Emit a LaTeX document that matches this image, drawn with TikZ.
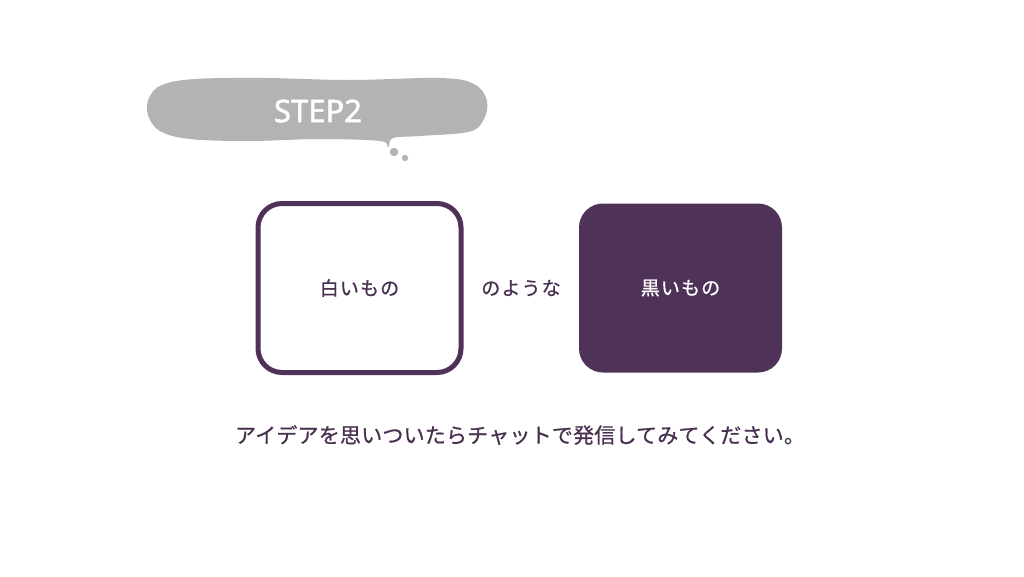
\documentclass[tikz,border=0pt]{standalone}
\usepackage{fontspec}
\usepackage{tikz}
\usetikzlibrary{calc}
\newfontfamily\jpfont[FakeBold=0.8, LetterSpace=6]{Noto Sans CJK JP}
\newfontfamily\jplinefont[FakeBold=0.7, LetterSpace=1]{Noto Sans CJK JP}
\newfontfamily\stepfont[FakeBold=1.6]{Noto Sans}
\definecolor{plum}{HTML}{4F3257}
\definecolor{plumtext}{HTML}{4A3050}
\definecolor{cloudgray}{HTML}{B3B3B3}
\tikzset{
    card/.style={rounded corners=24pt, minimum width=203pt, minimum height=169pt, inner sep=0pt},
    jptext/.style={font=\jpfont\fontsize{19}{22}\selectfont, text=plumtext}
}

\begin{document}
\begin{tikzpicture}[x=1pt, y=-1pt]
    \useasboundingbox[fill=white] (0,0) rectangle (1024,576);
    % speech cloud
    \fill[cloudgray] plot[smooth cycle, tension=0.6] coordinates {(149,98) (162,85) (195,79) (265,78) (350,80) (440,78) (474,84) (487,101) (483,121) (468,132) (420,136) (393,138) (388,147) (380,141) (320,139) (250,141) (190,139) (160,131) (148,115)};
    \fill[cloudgray] (394,152) circle (4.2) (405,158) circle (3.2);
    \node[font=\stepfont\fontsize{31}{34}\selectfont, text=white] (step) at (318,111) {STEP2};
    % the two cards
    \node[card, draw=plum, line width=5pt, fill=white] (white) at (359.5,288) {};
    \node[card, fill=plum] (black) at (680.5,288) {};
    \node[jptext] (whitelabel) at (white.center) {白いもの};
    \node[jptext] (like) at (521,288) {のような};
    \node[jptext, text=white] (blacklabel) at (black.center) {黒いもの};
    \node[jptext, font=\jplinefont\fontsize{21}{24}\selectfont] (hint) at (520,435) {アイデアを思いついたらチャットで発信してみてください。};
\end{tikzpicture}
\end{document}
